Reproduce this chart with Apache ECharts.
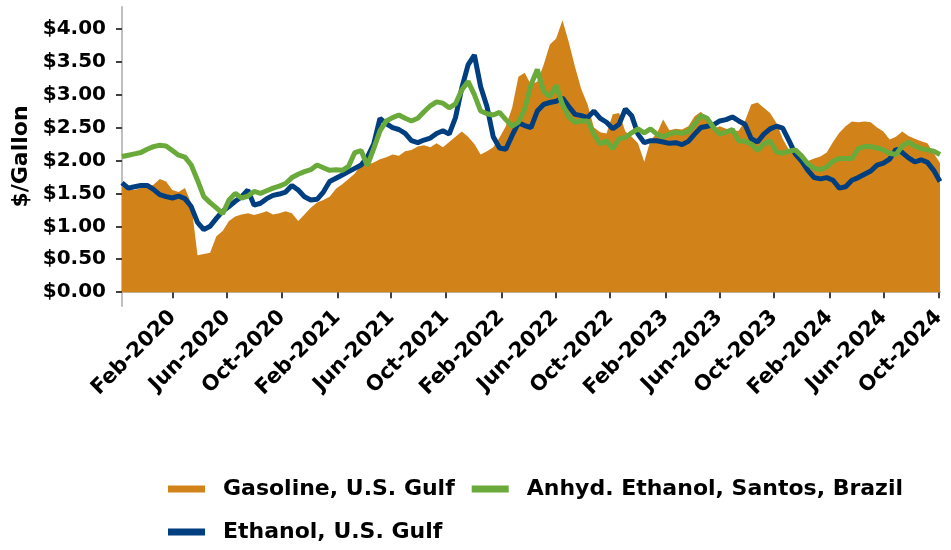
<!doctype html>
<html>
<head>
<meta charset="utf-8">
<script src="https://cdn.jsdelivr.net/npm/echarts@6/dist/echarts.min.js"></script>
<style>
  html, body { margin: 0; padding: 0; background: #fff; }
  #chart { width: 951px; height: 550px; }
</style>
</head>
<body>
<div id="chart"></div>
<script>
// biweekly observations, first one on 11 Oct 2019
var startDate = [2019, 9, 11]
var stepDays = 14

var gasoline = [
  1.60, 1.57, 1.55, 1.58, 1.60, 1.63, 1.72, 1.68, 1.55, 1.52,
  1.58, 1.35, 0.56, 0.58, 0.60, 0.85, 0.93, 1.08, 1.15, 1.18,
  1.20, 1.17, 1.20, 1.23, 1.18, 1.20, 1.23, 1.20, 1.08, 1.18,
  1.28, 1.36, 1.40, 1.45, 1.57, 1.64, 1.72, 1.80, 1.93, 1.93,
  1.97, 2.02, 2.05, 2.09, 2.07, 2.14, 2.16, 2.21, 2.23, 2.20,
  2.26, 2.20, 2.28, 2.36, 2.44, 2.36, 2.25, 2.09, 2.14, 2.20,
  2.35, 2.52, 2.80, 3.27, 3.33, 3.15, 3.20, 3.45, 3.76, 3.85,
  4.13, 3.80, 3.42, 3.08, 2.85, 2.50, 2.43, 2.41, 2.70, 2.72,
  2.44, 2.36, 2.26, 1.98, 2.31, 2.41, 2.62, 2.46, 2.48, 2.47,
  2.52, 2.67, 2.74, 2.62, 2.48, 2.52, 2.48, 2.45, 2.45, 2.60,
  2.85, 2.88, 2.80, 2.72, 2.57, 2.33, 2.16, 2.08, 2.05, 1.99,
  2.03, 2.06, 2.12, 2.28, 2.42, 2.52, 2.59, 2.58, 2.59, 2.58,
  2.50, 2.44, 2.32, 2.36, 2.44, 2.37, 2.33, 2.29, 2.26, 2.11,
  1.96
]

var ethanolUS = [
  1.66, 1.58, 1.60, 1.62, 1.62, 1.56, 1.48, 1.45, 1.43, 1.46,
  1.42, 1.30, 1.06, 0.95, 1.00, 1.12, 1.23, 1.30, 1.38, 1.45,
  1.55, 1.32, 1.35, 1.42, 1.47, 1.49, 1.52, 1.62, 1.55, 1.45,
  1.40, 1.41, 1.52, 1.68, 1.73, 1.78, 1.83, 1.88, 1.93, 2.05,
  2.25, 2.64, 2.56, 2.50, 2.47, 2.41, 2.30, 2.27, 2.31, 2.34,
  2.41, 2.45, 2.40, 2.65, 3.10, 3.45, 3.60, 3.12, 2.82, 2.36,
  2.19, 2.17, 2.38, 2.57, 2.53, 2.50, 2.75, 2.85, 2.88, 2.90,
  2.95, 2.82, 2.70, 2.68, 2.65, 2.75, 2.64, 2.58, 2.48, 2.55,
  2.78, 2.68, 2.40, 2.27, 2.30, 2.30, 2.28, 2.26, 2.27, 2.24,
  2.29, 2.40, 2.50, 2.52, 2.54, 2.60, 2.62, 2.66, 2.60, 2.55,
  2.33, 2.28, 2.40, 2.48, 2.52, 2.49, 2.30, 2.10, 1.99, 1.85,
  1.74, 1.72, 1.74, 1.70, 1.58, 1.60, 1.70, 1.74, 1.79, 1.84,
  1.93, 1.96, 2.02, 2.17, 2.12, 2.04, 1.98, 2.01, 1.97, 1.85,
  1.68
]

var ethanolBrazil = [
  2.06, 2.08, 2.10, 2.12, 2.17, 2.21, 2.23, 2.22, 2.15, 2.08,
  2.05, 1.93, 1.70, 1.45, 1.36, 1.28, 1.19, 1.40, 1.50, 1.43,
  1.46, 1.53, 1.50, 1.54, 1.58, 1.61, 1.65, 1.74, 1.79, 1.83,
  1.86, 1.93, 1.89, 1.85, 1.86, 1.85, 1.91, 2.12, 2.15, 1.92,
  2.18, 2.45, 2.60, 2.65, 2.69, 2.64, 2.60, 2.64, 2.74, 2.83,
  2.89, 2.87, 2.80, 2.86, 3.07, 3.20, 3.00, 2.75, 2.71, 2.69,
  2.73, 2.62, 2.52, 2.58, 2.78, 3.15, 3.38, 3.05, 2.97, 3.14,
  2.85, 2.66, 2.58, 2.60, 2.60, 2.40, 2.25, 2.30, 2.18, 2.33,
  2.35, 2.42, 2.48, 2.42, 2.48, 2.40, 2.36, 2.40, 2.43, 2.41,
  2.44, 2.55, 2.68, 2.64, 2.50, 2.40, 2.43, 2.47, 2.30, 2.29,
  2.25, 2.15, 2.25, 2.30, 2.13, 2.11, 2.14, 2.16, 2.07, 1.95,
  1.88, 1.86, 1.90, 1.99, 2.03, 2.03, 2.03, 2.18, 2.21, 2.21,
  2.19, 2.16, 2.11, 2.09, 2.22, 2.28, 2.22, 2.18, 2.16, 2.14,
  2.09
]

var tickDates = [
  '2020-02-01', '2020-06-01', '2020-10-01', '2021-02-01', '2021-06-01',
  '2021-10-01', '2022-02-01', '2022-06-01', '2022-10-01', '2023-02-01',
  '2023-06-01', '2023-10-01', '2024-02-01', '2024-06-01', '2024-10-01'
]
var tickLabels = [
  'Feb-2020', 'Jun-2020', 'Oct-2020', 'Feb-2021', 'Jun-2021',
  'Oct-2021', 'Feb-2022', 'Jun-2022', 'Oct-2022', 'Feb-2023',
  'Jun-2023', 'Oct-2023', 'Feb-2024', 'Jun-2024', 'Oct-2024'
]
var yTicks = [0, 0.5, 1, 1.5, 2, 2.5, 3, 3.5, 4]

var seriesNames = ['Gasoline, U.S. Gulf', 'Anhyd. Ethanol, Santos, Brazil', 'Ethanol, U.S. Gulf']

var DAY = 24 * 3600 * 1000

// x positions are counted in days from the first observation
function dayOf(y, m, d) {
  return Math.round((Date.UTC(y, m, d) - Date.UTC(startDate[0], startDate[1], startDate[2])) / DAY)
}

function pairs(values) {
  return values.map(function (v, i) { return [i * stepDays, v] })
}

var tickDays = tickDates.map(function (s) {
  var p = s.split('-')
  return dayOf(+p[0], +p[1] - 1, +p[2])
})

var font = 'DejaVu Sans'

var chart = echarts.init(document.getElementById('chart'))

var option = {
  animation: false,
  backgroundColor: '#ffffff',
  textStyle: { fontFamily: font },
  grid: { left: 122, right: 11, top: 7, bottom: 244 },
  legend: {
    data: seriesNames,
    left: 163,
    top: 471,
    width: 770,
    icon: 'rect',
    itemWidth: 37,
    itemHeight: 7,
    itemGap: 17,
    selectedMode: false,
    textStyle: {
      fontFamily: font, fontWeight: 'bold', fontSize: 22, color: '#000',
      lineHeight: 26, padding: [0, 0, 0, 13]
    }
  },
  xAxis: {
    type: 'value',
    min: 0,
    max: (gasoline.length - 1) * stepDays,
    splitLine: { show: false },
    axisLine: { lineStyle: { color: '#bfbfbf', width: 2 } },
    axisTick: {
      customValues: tickDays,
      length: 6,
      lineStyle: { color: '#404040', width: 2 }
    },
    axisLabel: {
      customValues: tickDays,
      rotate: 45,
      margin: 8,
      hideOverlap: false,
      fontFamily: font, fontWeight: 'bold', fontSize: 21, color: '#000',
      formatter: function (v) {
        var k = tickDays.indexOf(v)
        return k >= 0 ? tickLabels[k] : ''
      }
    }
  },
  yAxis: {
    type: 'value',
    min: -0.21,
    max: 4.33,
    name: '$/Gallon',
    nameLocation: 'middle',
    nameRotate: 90,
    nameGap: 90,
    nameTextStyle: { fontFamily: font, fontWeight: 'bold', fontSize: 22, color: '#000' },
    splitLine: { show: false },
    axisLine: { show: true, lineStyle: { color: '#bfbfbf', width: 2 } },
    axisTick: {
      show: true,
      customValues: yTicks,
      length: 6,
      lineStyle: { color: '#404040', width: 2 }
    },
    axisLabel: {
      customValues: yTicks,
      margin: 16,
      fontFamily: font, fontWeight: 'bold', fontSize: 20, color: '#000',
      formatter: function (v) { return '$' + v.toFixed(2) }
    }
  },
  series: [
    {
      name: seriesNames[0],
      type: 'line',
      data: pairs(gasoline),
      symbol: 'none',
      itemStyle: { color: '#d1831a' },
      lineStyle: { width: 0, color: '#d1831a' },
      areaStyle: { color: '#d1831a', opacity: 1 }
    },
    {
      name: seriesNames[2],
      type: 'line',
      data: pairs(ethanolUS),
      symbol: 'none',
      itemStyle: { color: '#003f7f' },
      lineStyle: { width: 5, color: '#003f7f' }
    },
    {
      name: seriesNames[1],
      type: 'line',
      data: pairs(ethanolBrazil),
      symbol: 'none',
      itemStyle: { color: '#6aaa3b' },
      lineStyle: { width: 5, color: '#6aaa3b' }
    }
  ]
}

chart.setOption(option)
</script>
</body>
</html>
